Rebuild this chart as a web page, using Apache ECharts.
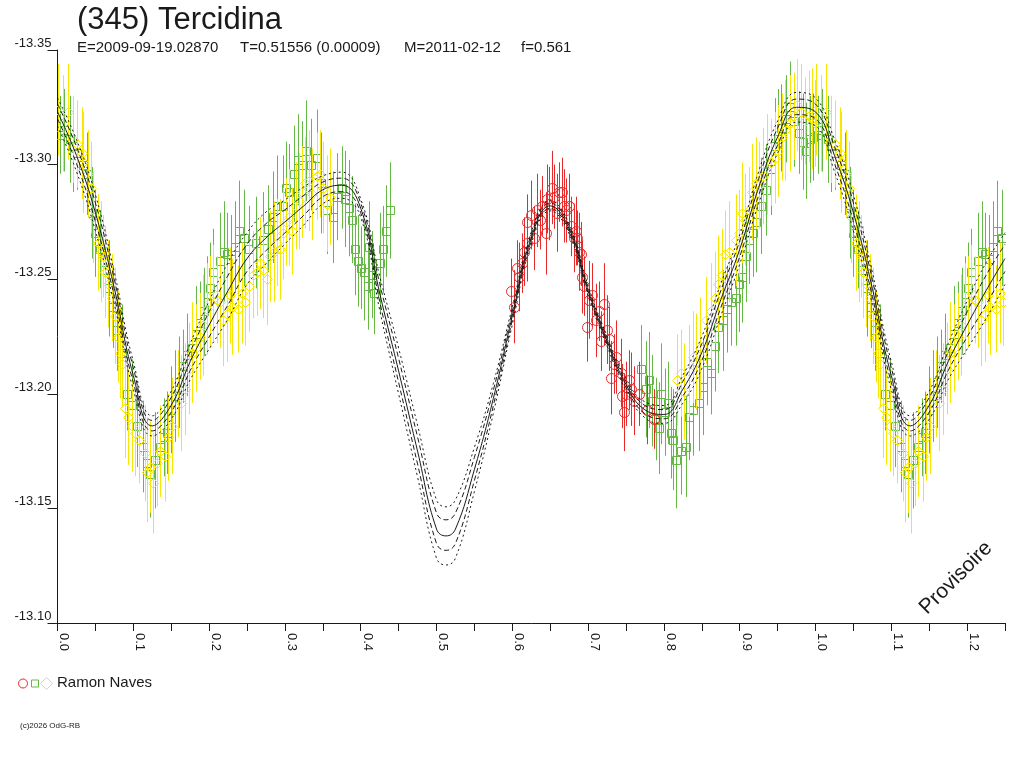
<!DOCTYPE html>
<html>
<head>
<meta charset="utf-8">
<script src="https://cdn.jsdelivr.net/npm/echarts@6/dist/echarts.min.js"></script>
<style>html,body{margin:0;padding:0;background:#fff;}#c{width:1024px;height:768px;}</style>
</head>
<body>
<div id="c"></div>
<script>
// ---------- tick labels ----------
const xTickLabels = ['0.0','0.1','0.2','0.3','0.4','0.5','0.6','0.7','0.8','0.9','1.0','1.1','1.2'];
const yTickLabels = ['-13.35','-13.30','-13.25','-13.20','-13.15','-13.10'];

// ---------- fit curves (phase, magnitude) ----------
const curvePhase = [0,0.025,0.05,0.075,0.1,0.125,0.15,0.175,0.2,0.225,0.25,0.275,0.3,0.325,0.35,0.375,0.4,0.425,0.45,0.475,0.5,0.5125,0.525,0.55,0.575,0.6,0.625,0.65,0.675,0.7,0.725,0.75,0.775,0.8,0.825,0.85,0.875,0.9,0.925,0.95,0.975,1.0];
const fitA = [-13.3291,-13.3110,-13.2869,-13.2530,-13.2141,-13.1904,-13.2011,-13.2219,-13.2405,-13.2572,-13.2703,-13.2793,-13.2846,-13.2903,-13.2951,-13.2967,-13.2850,-13.2514,-13.2200,-13.1863,-13.1537,-13.1507,-13.1537,-13.1766,-13.2045,-13.2379,-13.2706,-13.2842,-13.2742,-13.2472,-13.2252,-13.2066,-13.1965,-13.1949,-13.2081,-13.2250,-13.2480,-13.2695,-13.2970,-13.3190,-13.3315,-13.3291];
const fitB = [-13.3264,-13.3079,-13.2833,-13.2499,-13.2114,-13.1884,-13.1984,-13.2183,-13.2358,-13.2517,-13.2652,-13.2742,-13.2803,-13.2866,-13.2924,-13.2941,-13.2832,-13.2481,-13.2155,-13.1812,-13.1480,-13.1450,-13.1480,-13.1723,-13.2016,-13.2361,-13.2694,-13.2832,-13.2732,-13.2462,-13.2242,-13.2054,-13.1949,-13.1931,-13.2054,-13.2219,-13.2449,-13.2666,-13.2939,-13.3159,-13.3286,-13.3264];
const fitC = [-13.323,-13.304,-13.279,-13.246,-13.208,-13.186,-13.195,-13.214,-13.230,-13.245,-13.259,-13.268,-13.275,-13.282,-13.289,-13.291,-13.281,-13.244,-13.210,-13.175,-13.141,-13.138,-13.141,-13.167,-13.198,-13.234,-13.268,-13.282,-13.272,-13.245,-13.223,-13.204,-13.193,-13.191,-13.202,-13.218,-13.241,-13.263,-13.290,-13.312,-13.325,-13.323];
const fitD = [-13.3200,-13.3005,-13.2751,-13.2425,-13.2050,-13.1838,-13.1920,-13.2101,-13.2248,-13.2389,-13.2534,-13.2624,-13.2702,-13.2779,-13.2860,-13.2882,-13.2790,-13.2403,-13.2050,-13.1694,-13.1347,-13.1317,-13.1347,-13.1622,-13.1948,-13.2321,-13.2667,-13.2809,-13.2709,-13.2439,-13.2219,-13.2027,-13.1913,-13.1891,-13.1990,-13.2145,-13.2375,-13.2598,-13.2865,-13.3085,-13.3218,-13.3200];
const fitE = [-13.3169,-13.2970,-13.2711,-13.2390,-13.2019,-13.1816,-13.1889,-13.2061,-13.2195,-13.2328,-13.2477,-13.2567,-13.2654,-13.2737,-13.2829,-13.2853,-13.2770,-13.2366,-13.2000,-13.1637,-13.1283,-13.1253,-13.1283,-13.1574,-13.1915,-13.2301,-13.2654,-13.2798,-13.2698,-13.2428,-13.2208,-13.2014,-13.1895,-13.1871,-13.1959,-13.2110,-13.2340,-13.2565,-13.2830,-13.3050,-13.3185,-13.3169];

// ---------- observations (phase, magnitude, error) ----------
const yellowPhase = [0.001,0.014,0.020,0.032,0.034,0.040,0.047,0.053,0.060,0.063,0.072,0.076,0.080,0.085,0.089,0.098,0.102,0.115,0.122,0.126,0.131,0.142,0.151,0.159,0.168,0.178,0.188,0.197,0.205,0.211,0.218,0.230,0.238,0.244,0.253,0.263,0.271,0.280,0.289,0.297,0.306,0.315,0.323,0.332,0.342,0.350,0.359,
  0.817,0.822,0.827,0.833,0.848,0.855,0.868,0.872,0.881,0.895,0.903,0.912,0.921,0.931,0.941,0.951,0.960,0.971,0.981,0.991,0.999,
  0.214,0.223,0.258,0.276,0.294,0.310,0.336,0.355];
const yellowMag = [-13.324,-13.323,-13.311,-13.305,-13.301,-13.296,-13.277,-13.266,-13.260,-13.253,-13.242,-13.234,-13.225,-13.213,-13.194,-13.186,-13.183,-13.174,-13.168,-13.161,-13.170,-13.173,-13.186,-13.200,-13.202,-13.218,-13.225,-13.237,-13.244,-13.241,-13.232,-13.238,-13.237,-13.244,-13.247,-13.253,-13.254,-13.260,-13.266,-13.270,-13.277,-13.282,-13.288,-13.293,-13.295,-13.290,-13.286,
  -13.206,-13.209,-13.201,-13.210,-13.220,-13.232,-13.242,-13.248,-13.261,-13.267,-13.279,-13.280,-13.292,-13.295,-13.301,-13.306,-13.315,-13.321,-13.323,-13.321,-13.318,
  -13.240,-13.235,-13.252,-13.250,-13.263,-13.271,-13.287,-13.283];
const yellowErr = [0.020,0.021,0.019,0.020,0.022,0.019,0.020,0.021,0.018,0.020,0.019,0.021,0.020,0.019,0.022,0.020,0.019,0.021,0.020,0.022,0.019,0.020,0.021,0.019,0.020,0.022,0.019,0.020,0.021,0.019,0.020,0.021,0.019,0.022,0.020,0.019,0.021,0.020,0.019,0.020,0.021,0.019,0.020,0.022,0.019,0.020,0.021,
  0.020,0.019,0.021,0.020,0.022,0.019,0.020,0.021,0.019,0.020,0.022,0.019,0.020,0.021,0.019,0.020,0.022,0.019,0.021,0.020,0.019,
  0.020,0.021,0.019,0.020,0.022,0.019,0.020,0.021];
const yellowPhaseB = [0.007,0.026,0.044,0.057,0.067,0.083,0.093,0.107,0.118,0.135,0.146,0.163,0.173,0.183,0.192,0.201,0.227,0.248,0.267,0.285,0.301,0.319,0.327,0.346,0.862,0.877,0.886,0.899,0.907,0.916,0.926,0.936,0.946,0.956,0.966,0.976,0.986,0.995,0.838,0.843];
const yellowMagB = [-13.318,-13.309,-13.290,-13.262,-13.248,-13.218,-13.190,-13.180,-13.166,-13.175,-13.181,-13.196,-13.211,-13.220,-13.230,-13.240,-13.243,-13.240,-13.257,-13.262,-13.275,-13.284,-13.292,-13.296,-13.236,-13.252,-13.262,-13.270,-13.276,-13.288,-13.291,-13.300,-13.303,-13.312,-13.318,-13.326,-13.319,-13.320,-13.216,-13.214];
const yellowErrB = [0.021,0.019,0.020,0.022,0.019,0.020,0.021,0.019,0.022,0.020,0.019,0.021,0.020,0.019,0.022,0.020,0.021,0.019,0.020,0.022,0.019,0.021,0.020,0.019,0.021,0.020,0.022,0.019,0.020,0.021,0.019,0.022,0.020,0.019,0.021,0.020,0.019,0.022,0.020,0.021];

const greenPhase = [0.003,0.016,0.026,0.039,0.045,0.056,0.063,0.073,0.085,0.092,0.105,0.113,0.122,0.135,0.144,0.155,0.165,0.178,0.188,0.197,0.205,0.214,0.224,0.234,0.240,0.253,0.271,0.284,0.297,0.306,0.317,0.328,0.342,0.355,0.363,0.375,0.379,0.388,0.392,0.401,0.405,0.409,0.411,0.418,0.425,0.429,0.434,0.438,
  0.770,0.776,0.784,0.789,0.796,0.802,0.809,0.816,0.829,0.833,0.846,0.862,0.872,0.883,0.895,0.903,0.912,0.922,0.935,0.947,0.955,0.967,0.978,0.987,0.993];
const greenMag = [-13.313,-13.311,-13.305,-13.296,-13.279,-13.263,-13.254,-13.238,-13.218,-13.200,-13.186,-13.177,-13.165,-13.177,-13.183,-13.199,-13.212,-13.220,-13.231,-13.240,-13.253,-13.258,-13.261,-13.264,-13.271,-13.263,-13.267,-13.277,-13.282,-13.288,-13.302,-13.306,-13.303,-13.280,-13.277,-13.290,-13.285,-13.276,-13.263,-13.255,-13.253,-13.247,-13.264,-13.244,-13.257,-13.263,-13.271,-13.280,
  -13.211,-13.202,-13.197,-13.189,-13.200,-13.192,-13.183,-13.171,-13.177,-13.190,-13.196,-13.209,-13.229,-13.237,-13.242,-13.251,-13.267,-13.275,-13.289,-13.308,-13.316,-13.325,-13.314,-13.306,-13.311];
const greenErr = [0.017,0.019,0.016,0.018,0.020,0.017,0.019,0.018,0.021,0.016,0.018,0.020,0.019,0.017,0.018,0.020,0.016,0.019,0.018,0.020,0.019,0.021,0.018,0.020,0.022,0.019,0.021,0.020,0.022,0.021,0.020,0.022,0.021,0.019,0.020,0.018,0.021,0.019,0.020,0.018,0.021,0.019,0.020,0.018,0.022,0.019,0.020,0.021,
  0.019,0.021,0.020,0.018,0.022,0.019,0.020,0.021,0.022,0.019,0.021,0.018,0.020,0.019,0.021,0.020,0.019,0.022,0.020,0.021,0.019,0.020,0.018,0.021,0.019];
const greenPhaseB = [0.009,0.021,0.033,0.050,0.068,0.079,0.098,0.118,0.129,0.140,0.150,0.160,0.171,0.183,0.193,0.201,0.219,0.229,0.246,0.262,0.278,0.290,0.302,0.312,0.322,0.335,0.348,0.369,0.384,0.396,0.415,0.780,0.793,0.806,0.812,0.822,0.839,0.852,0.857,0.867,0.878,0.889,0.899,0.908,0.917,0.928,0.941,0.951,0.961,0.972,0.983,0.997];
const greenMagB = [-13.315,-13.308,-13.300,-13.270,-13.246,-13.228,-13.195,-13.170,-13.171,-13.181,-13.193,-13.205,-13.217,-13.226,-13.236,-13.246,-13.262,-13.259,-13.268,-13.266,-13.272,-13.282,-13.290,-13.296,-13.300,-13.300,-13.292,-13.286,-13.281,-13.258,-13.252,-13.206,-13.185,-13.196,-13.180,-13.175,-13.193,-13.203,-13.214,-13.221,-13.232,-13.240,-13.248,-13.260,-13.270,-13.282,-13.298,-13.311,-13.320,-13.319,-13.310,-13.312];
const greenErrB = [0.018,0.020,0.017,0.019,0.021,0.018,0.020,0.019,0.021,0.017,0.019,0.020,0.018,0.021,0.019,0.020,0.022,0.019,0.021,0.020,0.019,0.022,0.020,0.021,0.019,0.020,0.022,0.019,0.021,0.020,0.019,0.021,0.020,0.018,0.022,0.019,0.020,0.021,0.019,0.020,0.022,0.019,0.021,0.020,0.019,0.021,0.020,0.022,0.019,0.020,0.021,0.019];

const redPhase = [0.598,0.602,0.606,0.609,0.613,0.619,0.619,0.625,0.629,0.633,0.639,0.644,0.646,0.652,0.655,0.659,0.662,0.665,0.668,0.675,0.677,0.684,0.685,0.690,0.692,0.694,0.698,0.701,0.705,0.710,0.717,0.721,0.725,0.727,0.730,0.734,0.743,0.745,0.747,0.754,0.756,0.767,0.778,0.787,
  0.615,0.636,0.649,0.671,0.681,0.688,0.714,0.737,0.750,0.761];
const redMag = [-13.245,-13.238,-13.255,-13.251,-13.257,-13.266,-13.275,-13.278,-13.268,-13.280,-13.282,-13.270,-13.285,-13.290,-13.286,-13.279,-13.288,-13.288,-13.282,-13.282,-13.273,-13.271,-13.268,-13.261,-13.251,-13.247,-13.229,-13.241,-13.243,-13.232,-13.223,-13.239,-13.228,-13.224,-13.207,-13.213,-13.209,-13.199,-13.192,-13.206,-13.202,-13.200,-13.193,-13.189,
  -13.262,-13.276,-13.283,-13.280,-13.268,-13.262,-13.236,-13.216,-13.200,-13.197];
const redErr = [0.014,0.016,0.012,0.015,0.013,0.017,0.012,0.015,0.014,0.016,0.013,0.018,0.015,0.016,0.014,0.017,0.013,0.015,0.016,0.014,0.013,0.015,0.012,0.014,0.016,0.013,0.015,0.017,0.014,0.016,0.013,0.018,0.015,0.014,0.016,0.013,0.015,0.014,0.017,0.013,0.016,0.014,0.015,0.013,
  0.015,0.013,0.016,0.014,0.015,0.017,0.013,0.016,0.014,0.015];

// ---------- styling ----------
const RED = '#e82a2a', GREEN = '#63b944', YELLOW = '#f8e800', INK = '#1a1a1a';
const FONT = '"Liberation Sans", Arial, Helvetica, sans-serif';

// phase data are shown over 0..1.25: points with phase <= 0.25 are repeated one cycle later
function buildPoints(ph, mg, er) {
  const out = [];
  for (let i = 0; i < ph.length; i++) {
    out.push([ph[i], mg[i], er[i]]);
    if (ph[i] <= 0.25) out.push([ph[i] + 1, mg[i], er[i]]);
  }
  return out;
}
function buildCurve(vals) {
  const out = curvePhase.map((p, i) => [p, vals[i]]);
  curvePhase.forEach((p, i) => { if (p > 0 && p <= 0.25 + 1e-9) out.push([p + 1, vals[i]]); });
  return out;
}

function errSeries(name, pts, color, shape, z) {
  return {
    type: 'custom', name: name, data: pts, z: z, silent: true, animation: false, clip: true,
    encode: { x: 0, y: 1 },
    renderItem: function (params, api) {
      const p = api.value(0), m = api.value(1), e = api.value(2);
      const c = api.coord([p, m]), a = api.coord([p, m - e]), b = api.coord([p, m + e]);
      const x = Math.round(c[0]) + 0.5, y = Math.round(c[1]) + 0.5;
      const kids = [{ type: 'line', shape: { x1: x, y1: a[1], x2: x, y2: b[1] }, style: { stroke: color, lineWidth: 1 } }];
      if (shape === 'circle') {
        kids.push({ type: 'circle', shape: { cx: x, cy: y, r: 5 }, style: { fill: 'none', stroke: color, lineWidth: 1 } });
      } else if (shape === 'square') {
        kids.push({ type: 'rect', shape: { x: x - 4, y: y - 4, width: 8, height: 8 }, style: { fill: 'none', stroke: color, lineWidth: 1 } });
      } else {
        kids.push({ type: 'polygon', shape: { points: [[x, y - 5], [x + 5, y], [x, y + 5], [x - 5, y]] }, style: { fill: 'none', stroke: color, lineWidth: 1 } });
      }
      return { type: 'group', children: kids };
    }
  };
}

function curveSeries(vals, dash, z) {
  return {
    type: 'line', data: buildCurve(vals), smooth: 0.45, symbol: 'none', silent: true, animation: false, z: z, clip: true,
    lineStyle: { color: INK, width: 1, type: dash }
  };
}

const chart = echarts.init(document.getElementById('c'), null, { renderer: 'canvas', width: 1024, height: 768 });

const option = {
  backgroundColor: '#ffffff',
  animation: false,
  grid: { left: 57.5, top: 50, width: 947.5, height: 573, containLabel: false, outerBoundsMode: 'none' },
  xAxis: {
    type: 'value', min: 0, max: 1.25, interval: 0.05,
    axisLine: { show: true, onZero: false, lineStyle: { color: INK, width: 1 } },
    axisTick: { show: true, length: 8, lineStyle: { color: INK, width: 1 } },
    splitLine: { show: false },
    axisLabel: {
      rotate: -90, margin: 10, fontSize: 13, fontFamily: FONT, color: INK,
      align: 'left', verticalAlign: 'bottom', showMaxLabel: true, showMinLabel: true,
      formatter: function (v) {
        const k = Math.round(v / 0.05);
        return (k % 2 === 0 && xTickLabels[k / 2] !== undefined) ? xTickLabels[k / 2] : '';
      }
    }
  },
  yAxis: {
    type: 'value', inverse: true, min: -13.35, max: -13.10, interval: 0.05,
    axisLine: { show: true, onZero: false, lineStyle: { color: INK, width: 1 } },
    axisTick: { show: true, length: 10, lineStyle: { color: INK, width: 1 } },
    splitLine: { show: false },
    axisLabel: {
      margin: 43, fontSize: 13, fontFamily: FONT, color: INK, align: 'left', verticalAlign: 'bottom',
      showMaxLabel: true, showMinLabel: true,
      formatter: function (v) {
        const k = Math.round((v + 13.35) / 0.05);
        return yTickLabels[k] !== undefined ? yTickLabels[k] : '';
      }
    }
  },
  series: [
    errSeries('green', buildPoints(greenPhase.concat(greenPhaseB), greenMag.concat(greenMagB), greenErr.concat(greenErrB)), GREEN, 'square', 2),
    errSeries('yellow', buildPoints(yellowPhase.concat(yellowPhaseB), yellowMag.concat(yellowMagB), yellowErr.concat(yellowErrB)), YELLOW, 'diamond', 3),
    errSeries('red', buildPoints(redPhase, redMag, redErr), RED, 'circle', 4),
    curveSeries(fitA, [2, 3], 10),
    curveSeries(fitB, [5, 3], 10),
    curveSeries(fitC, 'solid', 11),
    curveSeries(fitD, [5, 3], 10),
    curveSeries(fitE, [2, 3], 10)
  ],
  graphic: [
    { type: 'text', x: 77, y: 20, style: { text: '(345) Tercidina', fontSize: 31, fontFamily: FONT, fill: INK, align: 'left', verticalAlign: 'middle' } },
    { type: 'text', x: 77, y: 48, style: { text: 'E=2009-09-19.02870', fontSize: 15, fontFamily: FONT, fill: INK, align: 'left', verticalAlign: 'middle' } },
    { type: 'text', x: 240, y: 48, style: { text: 'T=0.51556 (0.00009)', fontSize: 15, fontFamily: FONT, fill: INK, align: 'left', verticalAlign: 'middle' } },
    { type: 'text', x: 404, y: 48, style: { text: 'M=2011-02-12', fontSize: 15, fontFamily: FONT, fill: INK, align: 'left', verticalAlign: 'middle' } },
    { type: 'text', x: 521, y: 48, style: { text: 'f=0.561', fontSize: 15, fontFamily: FONT, fill: INK, align: 'left', verticalAlign: 'middle' } },
    { type: 'circle', shape: { cx: 23, cy: 683.5, r: 4.5 }, style: { fill: 'none', stroke: RED, lineWidth: 1 } },
    { type: 'rect', shape: { x: 31.5, y: 680, width: 7, height: 7 }, style: { fill: 'none', stroke: GREEN, lineWidth: 1 } },
    { type: 'polygon', shape: { points: [[46.5, 677.5], [52.5, 683.5], [46.5, 689.5], [40.5, 683.5]] }, style: { fill: 'none', stroke: YELLOW, lineWidth: 1 } },
    { type: 'text', x: 57, y: 683, style: { text: 'Ramon Naves', fontSize: 15, fontFamily: FONT, fill: INK, align: 'left', verticalAlign: 'middle' } },
    { type: 'text', x: 20, y: 726, style: { text: '(c)2026 OdG-RB', fontSize: 8, fontFamily: FONT, fill: INK, align: 'left', verticalAlign: 'middle' } },
    { type: 'text', x: 956, y: 578, rotation: Math.PI / 4, style: { text: 'Provisoire', fontSize: 21, fontFamily: FONT, fill: INK, align: 'center', verticalAlign: 'middle' } }
  ]
};
chart.setOption(option);
</script>
</body>
</html>
